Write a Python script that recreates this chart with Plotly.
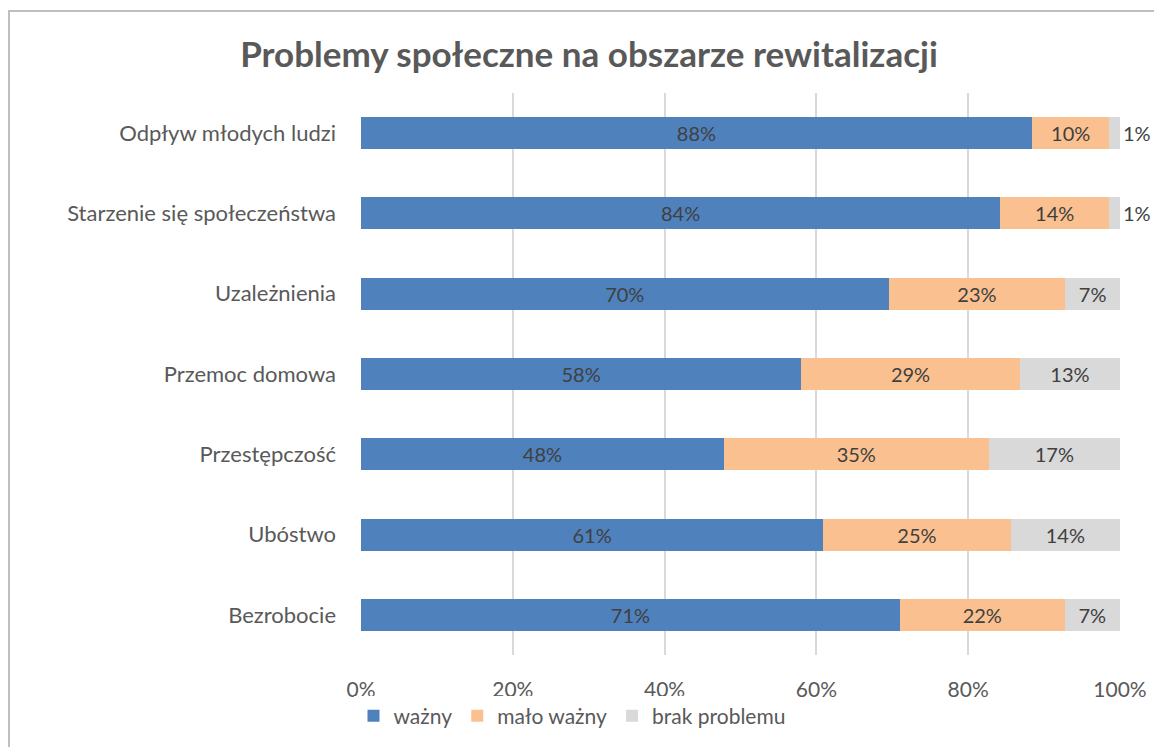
import plotly.graph_objects as go

categories = ["Bezrobocie", "Ubóstwo", "Przestępczość", "Przemoc domowa",
              "Uzależnienia", "Starzenie się społeczeństwa", "Odpływ młodych ludzi"]
wazny = [71.0, 60.9, 47.8, 58.0, 69.5, 84.2, 88.4]
malo_wazny = [21.7, 24.7, 34.9, 28.8, 23.3, 14.4, 10.2]
brak_problemu = [7.3, 14.4, 17.3, 13.2, 7.2, 1.4, 1.4]
series_names = ["ważny", "mało ważny", "brak problemu"]
colors = ["#4F81BD", "#FAC090", "#D9D9D9"]
x_ticks = [0, 20, 40, 60, 80, 100]
x_tick_labels = ["0%", "20%", "40%", "60%", "80%", "100%"]
title_text = "Problemy społeczne na obszarze rewitalizacji"

FONT = "Lato"
W, H = 1154, 747
ML, MR, MT, MB = 361, 34, 93, 92
PW = W - ML - MR
PH = H - MT - MB

fig = go.Figure()
for name, vals, col in zip(series_names, [wazny, malo_wazny, brak_problemu], colors):
    positions = ["outside" if v < 3 else "inside" for v in vals]
    fig.add_trace(go.Bar(
        y=categories, x=vals, name=name, orientation="h",
        marker=dict(color=col, line=dict(width=0)),
        texttemplate="%{x:.0f}%",
        textposition=positions,
        insidetextanchor="middle",
        constraintext="none",
        textfont=dict(family=FONT, size=20, color="#404040"),
        outsidetextfont=dict(family=FONT, size=20, color="#404040"),
        insidetextfont=dict(family=FONT, size=20, color="#404040"),
        cliponaxis=False,
    ))

def px_to_paper_x(px):
    return (px - ML) / PW

def px_to_paper_y(py):
    return (H - MB - py) / PH

fig.update_layout(
    barmode="stack",
    bargap=0.6,
    width=W, height=H,
    margin=dict(l=ML, r=MR, t=MT, b=MB, autoexpand=False),
    paper_bgcolor="white",
    plot_bgcolor="white",
    title=dict(text="<b>" + title_text + "</b>", x=589 / W, xanchor="center",
               y=1 - 55 / H, yanchor="middle",
               font=dict(family=FONT, size=35, color="#595959")),
    xaxis=dict(range=[0, 100.001], tickvals=x_ticks, ticktext=x_tick_labels,
               showgrid=True, gridcolor="#D9D9D9", gridwidth=1.5,
               zeroline=False, showline=False, ticks="",
               ticklabelstandoff=20,
               tickfont=dict(family=FONT, size=21, color="#595959")),
    yaxis=dict(showgrid=False, zeroline=False, showline=False, ticks="",
               ticklabelstandoff=24,
               tickfont=dict(family=FONT, size=22, color="#595959")),
    legend=dict(orientation="h", x=px_to_paper_x(572), xanchor="center",
                y=px_to_paper_y(716), yanchor="middle",
                font=dict(family=FONT, size=21, color="#595959"),
                traceorder="normal", itemwidth=30),
    uniformtext=dict(mode=False),
    shapes=[dict(type="rect", xref="paper", yref="paper",
                 x0=px_to_paper_x(9), x1=px_to_paper_x(1180),
                 y0=px_to_paper_y(780), y1=px_to_paper_y(11),
                 line=dict(color="#BFBFBF", width=2), fillcolor="rgba(0,0,0,0)",
                 layer="below")],
    showlegend=True,
)

fig.write_html(
    "out.html",
    config={"displayModeBar": False},
    post_script="document.body.style.margin='0';document.body.style.overflow='hidden';",
)
